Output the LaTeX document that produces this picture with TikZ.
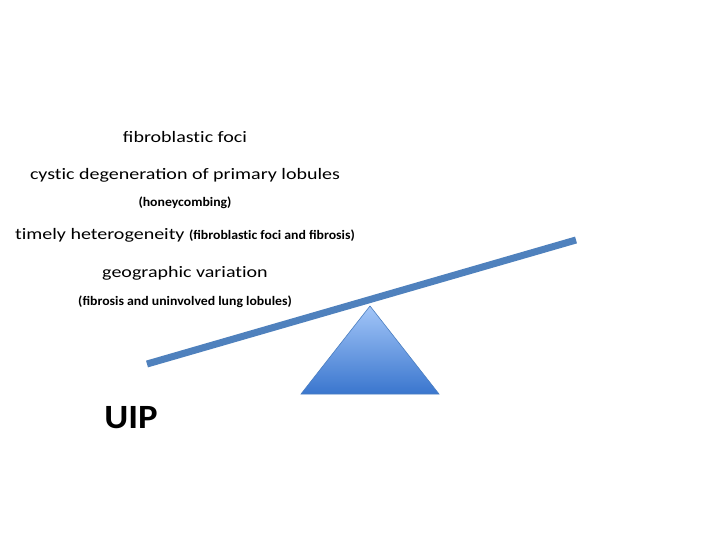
\documentclass[tikz,border=0pt]{standalone}
\usepackage{fontspec}
\setmainfont{Carlito}
\newfontfamily\widefont[FakeStretch=1.25]{Carlito}
\newfontfamily\smallfont[FakeStretch=1.06]{Carlito}
\newfontfamily\uipfont[FakeStretch=1.08]{Carlito}
\newcommand\nlig{\kern0pt }
\usetikzlibrary{shadings}
\definecolor{beam}{HTML}{4F81BD}
\definecolor{triTop}{HTML}{A3C6F8}
\definecolor{triBot}{HTML}{3A76CE}
\definecolor{triEdge}{HTML}{4A7EC0}
\tikzset{
  big/.style={font=\widefont\fontsize{16}{19}\selectfont, inner sep=0pt, anchor=base},
  small/.style={font=\smallfont\fontsize{13}{15}\bfseries\selectfont, inner sep=0pt, anchor=base},
}
\begin{document}
\begin{tikzpicture}[x=1pt,y=-1pt]
\useasboundingbox[fill=white] (0,0) rectangle (720,540);
\node[big] (t1) at (185,143) {fibroblast\nlig ic foci};
\node[big] (t2) at (185,180) {cyst\nlig ic degeneration of primary lobules};
\node[small] (t3) at (185,207) {(honeycombing)};
\node[big] (t4) at (185,240) {t\nlig imely heterogeneity {\smallfont\fontsize{13}{15}\bfseries\selectfont (fibroblast\nlig ic foci and fibrosis)}};
\node[big] (t5) at (185,277) {geographic variat\nlig ion};
\node[small] (t6) at (185,305) {(fibrosis and uninvolved lung lobules)};
\node[font=\uipfont\fontsize{34}{38}\bfseries\selectfont, inner sep=0pt, anchor=base] (uip) at (131,428) {UIP};
\coordinate (bl) at (147,364);
\coordinate (br) at (576,240);
\draw[beam, line width=7pt] (bl) -- (br);
\coordinate (apex) at (370,306);
\coordinate (b1) at (301,394);
\coordinate (b2) at (439,394);
\shade[top color=triTop, bottom color=triBot] (apex) -- (b1) -- (b2) -- cycle;
\draw[triEdge, line width=0.6pt] (apex) -- (b1) -- (b2) -- cycle;
\end{tikzpicture}
\end{document}
